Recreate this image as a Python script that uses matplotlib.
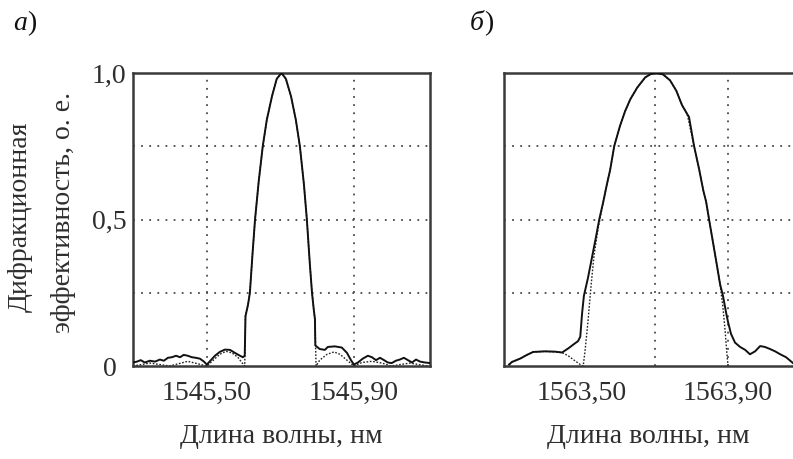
import matplotlib
matplotlib.use('Agg')
import matplotlib.pyplot as plt

plt.rcParams['font.family'] = ['Liberation Serif', 'DejaVu Serif']

# ---------------- Panel a) ----------------
wl_a_meas = [1545.299, 1545.310, 1545.320, 1545.331, 1545.345, 1545.359, 1545.372, 1545.383,
             1545.394, 1545.405, 1545.416, 1545.427, 1545.437, 1545.448, 1545.459, 1545.470,
             1545.481, 1545.492, 1545.500, 1545.511, 1545.522, 1545.535, 1545.549, 1545.563,
             1545.576, 1545.590, 1545.598, 1545.603, 1545.605, 1545.612, 1545.617, 1545.624,
             1545.631, 1545.641, 1545.652, 1545.663, 1545.677, 1545.690, 1545.703, 1545.715,
             1545.729, 1545.742, 1545.753, 1545.764, 1545.772, 1545.780, 1545.786, 1545.791,
             1545.794, 1545.795, 1545.807, 1545.821, 1545.829, 1545.848, 1545.867, 1545.881,
             1545.892, 1545.900, 1545.911, 1545.924, 1545.938, 1545.949, 1545.960, 1545.971,
             1545.982, 1545.992, 1546.003, 1546.014, 1546.025, 1546.036, 1546.047, 1546.058,
             1546.069, 1546.080, 1546.093, 1546.107]
eff_a_meas = [0.012, 0.015, 0.020, 0.012, 0.018, 0.015, 0.022, 0.018,
              0.028, 0.030, 0.035, 0.030, 0.038, 0.035, 0.030, 0.028,
              0.025, 0.015, 0.005, 0.020, 0.035, 0.048, 0.056, 0.055,
              0.045, 0.035, 0.030, 0.035, 0.170, 0.210, 0.250, 0.380,
              0.500, 0.630, 0.750, 0.840, 0.920, 0.980, 1.000, 0.980,
              0.920, 0.840, 0.750, 0.620, 0.500, 0.350, 0.250, 0.190,
              0.160, 0.070, 0.058, 0.055, 0.065, 0.067, 0.063, 0.045,
              0.020, 0.005, 0.012, 0.025, 0.035, 0.030, 0.020, 0.028,
              0.020, 0.012, 0.010, 0.018, 0.022, 0.028, 0.020, 0.012,
              0.022, 0.015, 0.012, 0.010]

wl_a_theo = [1545.299, 1545.345, 1545.399, 1545.448, 1545.500, 1545.522, 1545.535, 1545.552,
             1545.568, 1545.584, 1545.595, 1545.603, 1545.605, 1545.612, 1545.617, 1545.624,
             1545.631, 1545.641, 1545.652, 1545.663, 1545.677, 1545.690, 1545.703, 1545.715,
             1545.729, 1545.742, 1545.753, 1545.764, 1545.772, 1545.780, 1545.786, 1545.791,
             1545.794, 1545.797, 1545.807, 1545.827, 1545.846, 1545.862, 1545.881, 1545.900,
             1545.922, 1545.949, 1545.976, 1546.001, 1546.052, 1546.101]
eff_a_theo = [0.000, 0.010, 0.000, 0.016, 0.000, 0.025, 0.040, 0.050,
              0.045, 0.030, 0.012, 0.000, 0.170, 0.210, 0.250, 0.380,
              0.500, 0.630, 0.750, 0.840, 0.920, 0.980, 1.000, 0.980,
              0.920, 0.840, 0.750, 0.620, 0.500, 0.350, 0.250, 0.190,
              0.160, 0.000, 0.020, 0.040, 0.048, 0.040, 0.020, 0.000,
              0.012, 0.016, 0.010, 0.000, 0.010, 0.000]

xlim_a = [1545.299, 1546.107]
xticks_a = [1545.50, 1545.90]
xticklabels_a = ['1545,50', '1545,90']
gridx_a = [1545.50, 1545.90]

# ---------------- Panel б) ----------------
wl_b_meas = [1563.300, 1563.308, 1563.330, 1563.349, 1563.366, 1563.399, 1563.426, 1563.445,
             1563.462, 1563.478, 1563.489, 1563.495, 1563.500, 1563.505, 1563.516, 1563.527,
             1563.538, 1563.547, 1563.558, 1563.568, 1563.577, 1563.588, 1563.604, 1563.618,
             1563.632, 1563.651, 1563.673, 1563.689, 1563.705, 1563.722, 1563.741, 1563.758,
             1563.774, 1563.788, 1563.793, 1563.807, 1563.821, 1563.832, 1563.840, 1563.848,
             1563.859, 1563.870, 1563.878, 1563.886, 1563.895, 1563.900, 1563.908, 1563.919,
             1563.933, 1563.947, 1563.960, 1563.974, 1563.988, 1564.001, 1564.015, 1564.029,
             1564.043, 1564.059, 1564.078]
eff_b_meas = [0.005, 0.014, 0.025, 0.038, 0.048, 0.050, 0.049, 0.046,
              0.060, 0.075, 0.085, 0.100, 0.180, 0.240, 0.300, 0.370,
              0.440, 0.500, 0.560, 0.620, 0.670, 0.750, 0.820, 0.870,
              0.910, 0.950, 0.985, 0.997, 1.000, 0.995, 0.975, 0.940,
              0.890, 0.860, 0.850, 0.750, 0.670, 0.600, 0.560, 0.500,
              0.420, 0.340, 0.280, 0.240, 0.180, 0.150, 0.110, 0.080,
              0.065, 0.055, 0.040, 0.050, 0.068, 0.065, 0.058, 0.050,
              0.040, 0.030, 0.010]

wl_b_theo = [1563.300, 1563.308, 1563.330, 1563.349, 1563.366, 1563.399, 1563.426, 1563.445,
             1563.462, 1563.478, 1563.495, 1563.503, 1563.508, 1563.516, 1563.525, 1563.533,
             1563.544, 1563.558, 1563.568, 1563.577, 1563.588, 1563.604, 1563.618, 1563.632,
             1563.651, 1563.673, 1563.689, 1563.705, 1563.722, 1563.741, 1563.758, 1563.774,
             1563.788, 1563.807, 1563.821, 1563.832, 1563.840, 1563.848, 1563.859, 1563.870,
             1563.878, 1563.886, 1563.892, 1563.897, 1563.900]
eff_b_theo = [0.005, 0.014, 0.025, 0.038, 0.048, 0.050, 0.048, 0.046,
              0.035, 0.020, 0.005, 0.000, 0.050, 0.150, 0.280, 0.380,
              0.470, 0.560, 0.620, 0.670, 0.750, 0.820, 0.870, 0.910,
              0.950, 0.985, 0.997, 1.000, 0.995, 0.975, 0.940, 0.890,
              0.860, 0.750, 0.670, 0.600, 0.560, 0.500, 0.420, 0.340,
              0.280, 0.200, 0.120, 0.040, 0.000]

xlim_b = [1563.286, 1564.078]
xticks_b = [1563.50, 1563.90]
xticklabels_b = ['1563,50', '1563,90']
gridx_b = [1563.70, 1563.90]

gridy = [0.25, 0.50, 0.75]
yticks = [0.0, 0.5, 1.0]
yticklabels = ['0', '0,5', '1,0']

xlabel = 'Длина волны, нм'
ylabel_1 = 'Дифракционная'
ylabel_2 = 'эффективность, о. е.'

TXT = '#2e2e2e'
SPINE = '#3a3a3a'
GRID = '#4a4a4a'
FS = 20

fig = plt.figure(figsize=(7.93, 4.59), dpi=100)
ax1 = fig.add_axes([133/793, 1 - 366/459, 297/793, 293/459])
ax2 = fig.add_axes([504/793, 1 - 366/459, 289/793, 293/459])

for ax, wm, em, wt, et, xl, xt, xtl, gx in [
        (ax1, wl_a_meas, eff_a_meas, wl_a_theo, eff_a_theo, xlim_a, xticks_a, xticklabels_a, gridx_a),
        (ax2, wl_b_meas, eff_b_meas, wl_b_theo, eff_b_theo, xlim_b, xticks_b, xticklabels_b, gridx_b)]:
    ax.set_xlim(xl)
    ax.set_ylim(0, 1.0)
    for g in gx:
        ax.axvline(g, color=GRID, lw=1.3, linestyle=(0, (1, 3.5)), zorder=1)
    for g in gridy:
        ax.axhline(g, color=GRID, lw=1.3, linestyle=(0, (1, 3.5)), zorder=1)
    ax.plot(wt, et, color='#222222', lw=1.0, linestyle=(0, (1.2, 1.2)), zorder=2)
    ax.plot(wm, em, color='#111111', lw=1.4, zorder=3)
    ax.set_xticks(xt)
    ax.set_xticklabels(xtl, fontsize=FS, color=TXT)
    ax.tick_params(axis='x', length=0, pad=11)
    ax.set_xlabel(xlabel, fontsize=FS, color=TXT, labelpad=13)
    for s in ax.spines.values():
        s.set_color(SPINE)
        s.set_linewidth(1.8)

ax1.set_yticks(yticks)
ax1.set_yticklabels(yticklabels, fontsize=FS, color=TXT)
for lab in ax1.get_yticklabels():
    lab.set_horizontalalignment('center')
ax1.tick_params(axis='y', length=0, pad=17)

ax2.set_yticks([])
ax2.spines['right'].set_visible(False)

fig.text(20/793, 1 - 217/459, ylabel_1, rotation=90, fontsize=FS,
         color=TXT, ha='center', va='center')
fig.text(64/793, 1 - 212/459, ylabel_2, rotation=90, fontsize=FS,
         color=TXT, ha='center', va='center')

fig.text(13/793, 1 - 24/459, 'а', fontsize=20, style='italic', color='#111111',
         ha='left', va='center')
fig.text(27/793, 1 - 24/459, ')', fontsize=20, color='#111111', ha='left', va='center')
fig.text(470/793, 1 - 24/459, 'б', fontsize=20, style='italic', color='#111111',
         ha='left', va='center')
fig.text(484/793, 1 - 24/459, ')', fontsize=20, color='#111111', ha='left', va='center')

fig.savefig('out.png', dpi=100)
